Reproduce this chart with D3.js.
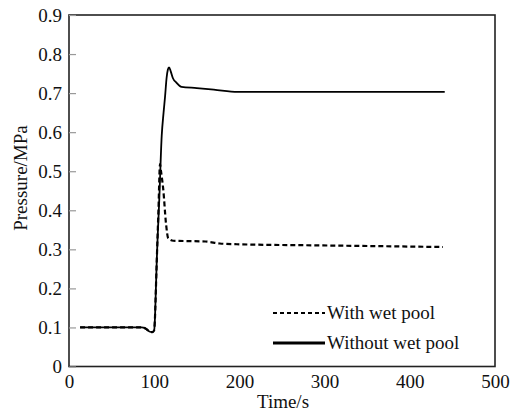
<!DOCTYPE html>
<html><head><meta charset="utf-8">
<script src="https://cdn.jsdelivr.net/npm/d3@7"></script>
<style>body{margin:0;background:#fff}svg{display:block}text{font-family:"Liberation Serif","Times New Roman",serif;fill:#111}</style>
</head><body><svg id="c" width="513" height="412"></svg>
<script>
const xTicks=[0,100,200,300,400,500];
const yTicks=[0,0.1,0.2,0.3,0.4,0.5,0.6,0.7,0.8,0.9];
const seriesNames=["With wet pool","Without wet pool"];
const timeWithout=[13,85,90,95,98,100,101,102,103,106,108.8,111,112.7,114.6,116,117.4,119.5,122,126,132,150,170,198,300,441];
const pressWithout=[0.1,0.1,0.097,0.089,0.088,0.093,0.13,0.2,0.27,0.43,0.59,0.65,0.69,0.74,0.76,0.766,0.755,0.738,0.727,0.716,0.713,0.709,0.703,0.703,0.703];
const timeWith=[13,85,90,95,98,100,101,102,103,105,106.8,108,110.7,113.8,116.5,122.4,142,160,177,197,298,439];
const pressWith=[0.1,0.1,0.097,0.089,0.088,0.093,0.13,0.2,0.27,0.4,0.518,0.5,0.452,0.367,0.328,0.322,0.321,0.32,0.315,0.313,0.31,0.306];

const svg=d3.select("#c");
const L=69,R=495,T=15,B=366.5;
const x=d3.scaleLinear().domain([0,500]).range([L,R]);
const y=d3.scaleLinear().domain([0,0.9]).range([B,T]);

svg.append("rect").attr("x",L).attr("y",T).attr("width",R-L).attr("height",B-T)
  .attr("fill","none").attr("stroke","#222").attr("stroke-width",1.6);

const gy=svg.append("g").attr("transform",`translate(${L},0)`)
  .call(d3.axisLeft(y).tickValues(yTicks).tickSize(-7).tickFormat(d=>d===0?"0":d3.format(".1f")(d)));
gy.select(".domain").remove();
gy.selectAll(".tick line").attr("stroke","#999").attr("stroke-width",1.2);
gy.selectAll(".tick text").attr("font-size",19).attr("font-family","Liberation Serif").attr("fill","#111").attr("x",-7);

const gx=svg.append("g").attr("transform",`translate(0,${B})`)
  .call(d3.axisBottom(x).tickValues(xTicks).tickSize(0).tickPadding(8).tickFormat(d3.format("d")));
gx.select(".domain").remove();
gx.selectAll(".tick text").attr("font-size",19).attr("font-family","Liberation Serif").attr("fill","#111");

svg.append("text").attr("x",(L+R)/2+1).attr("y",408).attr("text-anchor","middle").attr("font-size",19).text("Time/s");
svg.append("text").attr("transform","translate(27,178) rotate(-90)").attr("text-anchor","middle").attr("font-size",19).text("Pressure/MPa");

const line=d3.line().x(d=>x(d[0])).y(d=>y(d[1])).curve(d3.curveMonotoneX);
const dWith=timeWith.map((t,i)=>[t,pressWith[i]]);
const dWithout=timeWithout.map((t,i)=>[t,pressWithout[i]]);
svg.append("path").datum(dWith).attr("d",line).attr("fill","none").attr("stroke","#000").attr("stroke-width",2.2).attr("stroke-dasharray","5,3");
svg.append("path").datum(dWithout).attr("d",line).attr("fill","none").attr("stroke","#000").attr("stroke-width",1.8);

const lg=svg.append("g");
[[313,"4,3",2.2],[343,null,2.8]].forEach((s,i)=>{
  const ln=lg.append("line").attr("x1",273).attr("x2",325).attr("y1",s[0]).attr("y2",s[0]).attr("stroke","#000").attr("stroke-width",s[2]);
  if(s[1]) ln.attr("stroke-dasharray",s[1]);
  lg.append("text").attr("x",327).attr("y",s[0]+6).attr("font-size",19).text(seriesNames[i]);
});
</script></body></html>
